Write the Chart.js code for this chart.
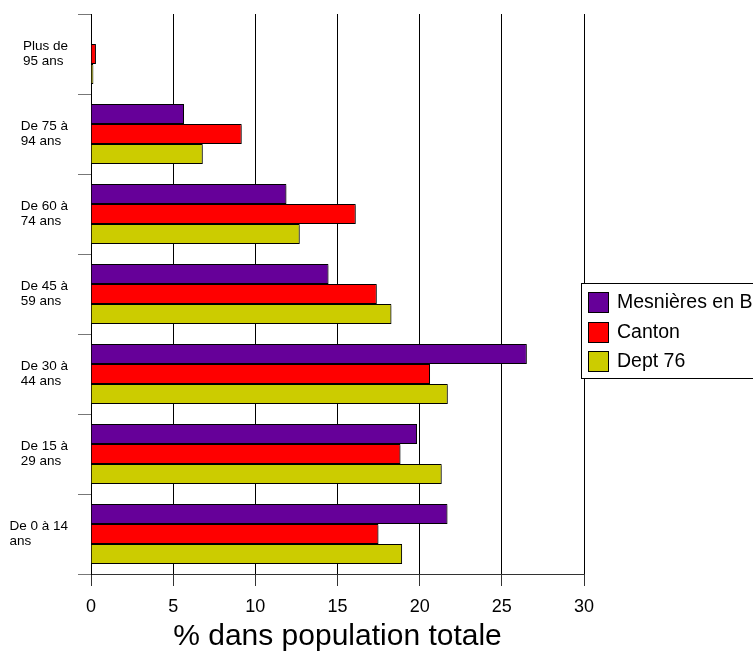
<!DOCTYPE html>
<html>
<head>
<meta charset="utf-8">
<script src="https://cdn.jsdelivr.net/npm/chart.js@4.4.1/dist/chart.umd.min.js"></script>
<style>
  html, body { margin: 0; padding: 0; background: #fff; }
  #wrap { width: 753px; height: 652px; position: relative; }
</style>
</head>
<body>
<div id="wrap"><canvas id="c" width="753" height="652"></canvas></div>
<script>
// ---- Data ----
const categories = [
  ['Plus de', '95 ans'],
  ['De 75 à', '94 ans'],
  ['De 60 à', '74 ans'],
  ['De 45 à', '59 ans'],
  ['De 30 à', '44 ans'],
  ['De 15 à', '29 ans'],
  ['De 0 à 14', 'ans']
];
const seriesNames = ['Mesnières en Bray', 'Canton', 'Dept 76'];
const mesnieres = [0, 5.66, 11.89, 14.45, 26.52, 19.84, 21.69];
const canton    = [0.3, 9.17, 16.11, 17.39, 20.63, 18.83, 17.49];
const dept76    = [0.14, 6.8, 12.7, 18.28, 21.71, 21.34, 18.93];
const xTicks = [0, 5, 10, 15, 20, 25, 30];
const xTitle = '% dans population totale';

const colors = ['#660099', '#ff0000', '#cccc00'];
const FONT = "'Liberation Sans', Arial, sans-serif";

const barShadow = {
  id: 'barShadow',
  beforeDatasetsDraw(chart) {
    const ctx = chart.ctx;
    ctx.save();
    ctx.shadowColor = 'rgba(0,0,0,0.35)';
    ctx.shadowOffsetX = 1.5;
    ctx.shadowOffsetY = 1.5;
    ctx.shadowBlur = 0;
  },
  afterDatasetsDraw(chart) {
    chart.ctx.restore();
  }
};

const yLabels = {
  id: 'yLabels',
  afterDraw(chart) {
    const ctx = chart.ctx;
    const y = chart.scales.y;
    ctx.save();
    ctx.font = '13.5px ' + FONT;
    ctx.fillStyle = '#000';
    ctx.textAlign = 'left';
    ctx.textBaseline = 'middle';
    const rightEdge = 68;
    chart.data.labels.forEach((lines, i) => {
      const cy = y.getPixelForValue(i);
      const w = Math.max(...lines.map(l => ctx.measureText(l).width));
      const x0 = rightEdge - w;
      const lh = 15;
      const start = cy - (lines.length - 1) * lh / 2;
      lines.forEach((l, k) => ctx.fillText(l, x0, start + k * lh));
    });
    ctx.restore();
  }
};

const boxLegend = {
  id: 'boxLegend',
  afterDraw(chart) {
    const ctx = chart.ctx;
    ctx.save();
    const left = 581, top = 283, h = 95;
    ctx.fillStyle = '#fff';
    ctx.fillRect(left, top, 400, h);
    ctx.strokeStyle = '#000';
    ctx.lineWidth = 1;
    ctx.strokeRect(left + 0.5, top + 0.5, 400, h);
    ctx.font = '19.5px ' + FONT;
    ctx.textAlign = 'left';
    ctx.textBaseline = 'middle';
    chart.data.datasets.forEach((ds, i) => {
      const sy = Math.round(292 + i * 29.5);
      ctx.fillStyle = ds.backgroundColor;
      ctx.fillRect(588, sy, 20, 20);
      ctx.strokeStyle = '#000';
      ctx.strokeRect(588.5, sy + 0.5, 20, 20);
      ctx.fillStyle = '#000';
      ctx.fillText(ds.label, 617, sy + 10.5);
    });
    ctx.restore();
  }
};

new Chart(document.getElementById('c'), {
  type: 'bar',
  data: {
    labels: categories,
    datasets: [
      { label: seriesNames[0], data: mesnieres, backgroundColor: colors[0] },
      { label: seriesNames[1], data: canton, backgroundColor: colors[1] },
      { label: seriesNames[2], data: dept76, backgroundColor: colors[2] }
    ].map(d => Object.assign(d, { borderColor: '#000', borderWidth: 1, borderSkipped: 'start' }))
  },
  options: {
    indexAxis: 'y',
    responsive: false,
    animation: false,
    devicePixelRatio: 1,
    layout: { padding: { left: 0, top: 14, right: 169, bottom: 0 } },
    datasets: { bar: { categoryPercentage: 0.75, barPercentage: 1 } },
    plugins: { legend: { display: false }, tooltip: { enabled: false } },
    scales: {
      x: {
        type: 'linear',
        min: xTicks[0],
        max: xTicks[xTicks.length - 1],
        afterBuildTicks(scale) { scale.ticks = xTicks.map(v => ({ value: v })); },
        afterFit(scale) { scale.height = 78; },
        ticks: { color: '#000', font: { family: FONT, size: 18 }, padding: 10, maxRotation: 0 },
        grid: { color: '#000', lineWidth: 1, drawTicks: true, tickLength: 12, tickColor: '#333' },
        border: { display: true, color: '#333', width: 1 },
        title: { display: true, text: xTitle, color: '#000', font: { family: FONT, size: 30, lineHeight: 1 }, padding: 0 }
      },
      y: {
        type: 'category',
        afterFit(scale) { scale.width = 91; },
        ticks: { display: false },
        grid: { offset: true, drawOnChartArea: false, drawTicks: true, tickLength: 13, tickColor: '#777', lineWidth: 1 },
        border: { display: true, color: '#000', width: 1 }
      }
    }
  },
  plugins: [barShadow, yLabels, boxLegend]
});
</script>
</body>
</html>
